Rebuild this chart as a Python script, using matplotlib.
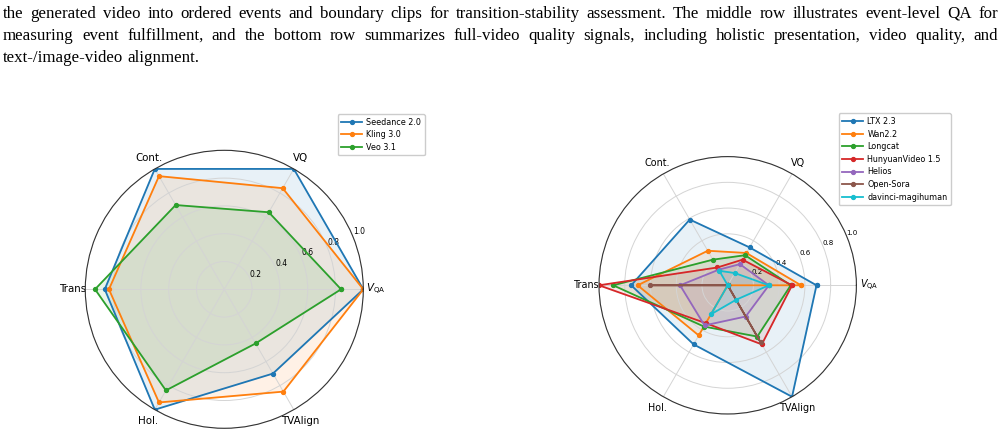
import numpy as np
import matplotlib
matplotlib.use('Agg')
import matplotlib.pyplot as plt

# ---------------- data ----------------
categories = [r'$V_{\mathrm{QA}}$', 'VQ', 'Cont.', 'Trans', 'Hol.', 'TVAlign']
r_ticks = [0.2, 0.4, 0.6, 0.8, 1.0]
r_tick_labels = ['0.2', '0.4', '0.6', '0.8', '1.0']

left_models = ['Seedance 2.0', 'Kling 3.0', 'Veo 3.1']
seedance = [1.00, 1.00, 1.00, 0.86, 1.00, 0.70]
kling = [1.00, 0.84, 0.94, 0.83, 0.94, 0.85]
veo = [0.84, 0.64, 0.70, 0.93, 0.84, 0.45]

right_models = ['LTX 2.3', 'Wan2.2', 'Longcat', 'HunyuanVideo 1.5',
                'Helios', 'Open-Sora', 'davinci-magihuman']
ltx = [0.69, 0.34, 0.59, 0.75, 0.53, 1.00]
wan = [0.57, 0.29, 0.31, 0.70, 0.45, 0.00]
longcat = [0.49, 0.27, 0.23, 0.89, 0.37, 0.46]
hunyuan = [0.50, 0.23, 0.16, 1.00, 0.34, 0.53]
helios = [0.32, 0.19, 0.14, 0.37, 0.36, 0.28]
opensora = [0.00, 0.00, 0.00, 0.60, 0.00, 0.51]
davinci = [0.32, 0.11, 0.13, 0.00, 0.26, 0.13]

caption_lines = [
    "the generated video into ordered events and boundary clips for transition-stability assessment. The middle row illustrates event-level QA for",
    "measuring event fulfillment, and the bottom row summarizes full-video quality signals, including holistic presentation, video quality, and",
    "text-/image-video alignment.",
]

colors = ['#1f77b4', '#ff7f0e', '#2ca02c', '#d62728', '#9467bd', '#8c564b', '#17becf']

W, H = 1003, 438
fig = plt.figure(figsize=(W / 100, H / 100), dpi=100)


def px_box(cx, cy, r):
    return [(cx - r) / W, (H - cy - r) / H, 2 * r / W, 2 * r / H]


def radar(ax, series, names, xfs, yfs, xpad):
    n = len(categories)
    angles = np.linspace(0, 2 * np.pi, n, endpoint=False)
    closed = np.concatenate([angles, angles[:1]])
    for vals, name, c in zip(series, names, colors):
        v = np.concatenate([vals, vals[:1]])
        ax.plot(closed, v, '-o', lw=1.3, ms=2.8, color=c, label=name)
        ax.fill(closed, v, color=c, alpha=0.1)
    ax.set_xticks(angles)
    ax.set_xticklabels(categories, fontsize=xfs)
    ax.tick_params(axis='x', pad=xpad)
    ax.set_ylim(0, 1.0)
    ax.set_yticks(r_ticks)
    ax.set_yticklabels(r_tick_labels, fontsize=yfs)
    ax.grid(color='#d4d4d4', lw=0.7)
    ax.spines['polar'].set_color('#333333')
    ax.spines['polar'].set_linewidth(0.8)


ax1 = fig.add_axes(px_box(224.3, 289.3, 139.0), projection='polar')
radar(ax1, [seedance, kling, veo], left_models, 7.4, 5.5, -1.5)
ax1.legend(loc='upper left', bbox_to_anchor=(337.7 / W, 1 - 114 / H),
           bbox_transform=fig.transFigure, borderaxespad=0, fontsize=5.8,
           handlelength=2.6, handletextpad=0.5, labelspacing=0.45,
           borderpad=0.45, framealpha=1.0)

ax2 = fig.add_axes(px_box(727.7, 285.3, 128.7), projection='polar')
radar(ax2, [ltx, wan, longcat, hunyuan, helios, opensora, davinci],
      right_models, 6.9, 5.1, -1.5)
ax2.legend(loc='upper left', bbox_to_anchor=(838.7 / W, 1 - 113.3 / H),
           bbox_transform=fig.transFigure, borderaxespad=0, fontsize=5.8,
           handlelength=2.6, handletextpad=0.5, labelspacing=0.45,
           borderpad=0.45, framealpha=1.0)

# ---------------- caption (justified) ----------------
cap_family = 'Liberation Serif'
baselines = [18, 40, 62]
x_left, x_right = 3.0, 998.0
renderer = fig.canvas.get_renderer()

target_last = 196.0
probe = fig.text(0, 0, caption_lines[2], fontsize=10, family=cap_family)
w10 = probe.get_window_extent(renderer).width
probe.remove()
cap_fs = 10 * target_last / w10

sp = fig.text(0, 0, 'a b', fontsize=cap_fs, family=cap_family)
sp2 = fig.text(0, 0, 'ab', fontsize=cap_fs, family=cap_family)
space_w = sp.get_window_extent(renderer).width - sp2.get_window_extent(renderer).width
sp.remove(); sp2.remove()

for i, line in enumerate(caption_lines):
    words = line.split(' ')
    texts = [fig.text(0, 0, w, fontsize=cap_fs, family=cap_family,
                      va='baseline', ha='left') for w in words]
    widths = [t.get_window_extent(renderer).width for t in texts]
    justify = i < len(caption_lines) - 1
    if justify:
        gap = (x_right - x_left - sum(widths)) / (len(words) - 1)
    else:
        gap = space_w
    x = x_left
    for t, w in zip(texts, widths):
        t.set_position((x / W, 1 - baselines[i] / H))
        x += w + gap

fig.savefig('out.png', dpi=100)
